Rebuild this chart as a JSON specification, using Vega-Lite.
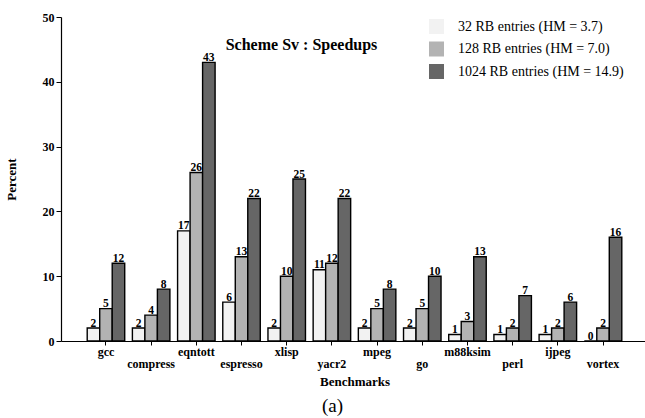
{
  "$schema": "https://vega.github.io/schema/vega-lite/v6.json",
  "width": 587,
  "height": 324,
  "autosize": {"type": "none"},
  "padding": {"left": 61, "top": 17, "right": 0, "bottom": 77},
  "background": "white",
  "config": {
    "view": {"stroke": null},
    "font": "Liberation Serif",
    "axis": {"grid": false}
  },
  "title": {
    "text": "Scheme Sv : Speedups",
    "orient": "top",
    "anchor": "middle",
    "frame": "group",
    "font": "Liberation Serif",
    "fontSize": 16,
    "fontWeight": "bold",
    "color": "black",
    "offset": 0,
    "baseline": "alphabetic",
    "dx": -53,
    "dy": 55
  },
  "data": {
    "values": [
      {"bench": "gcc", "series": "32 RB entries (HM = 3.7)", "value": 2},
      {"bench": "gcc", "series": "128 RB entries (HM = 7.0)", "value": 5},
      {"bench": "gcc", "series": "1024 RB entries (HM = 14.9)", "value": 12},
      {"bench": "compress", "series": "32 RB entries (HM = 3.7)", "value": 2},
      {"bench": "compress", "series": "128 RB entries (HM = 7.0)", "value": 4},
      {"bench": "compress", "series": "1024 RB entries (HM = 14.9)", "value": 8},
      {"bench": "eqntott", "series": "32 RB entries (HM = 3.7)", "value": 17},
      {"bench": "eqntott", "series": "128 RB entries (HM = 7.0)", "value": 26},
      {"bench": "eqntott", "series": "1024 RB entries (HM = 14.9)", "value": 43},
      {"bench": "espresso", "series": "32 RB entries (HM = 3.7)", "value": 6},
      {"bench": "espresso", "series": "128 RB entries (HM = 7.0)", "value": 13},
      {"bench": "espresso", "series": "1024 RB entries (HM = 14.9)", "value": 22},
      {"bench": "xlisp", "series": "32 RB entries (HM = 3.7)", "value": 2},
      {"bench": "xlisp", "series": "128 RB entries (HM = 7.0)", "value": 10},
      {"bench": "xlisp", "series": "1024 RB entries (HM = 14.9)", "value": 25},
      {"bench": "yacr2", "series": "32 RB entries (HM = 3.7)", "value": 11},
      {"bench": "yacr2", "series": "128 RB entries (HM = 7.0)", "value": 12},
      {"bench": "yacr2", "series": "1024 RB entries (HM = 14.9)", "value": 22},
      {"bench": "mpeg", "series": "32 RB entries (HM = 3.7)", "value": 2},
      {"bench": "mpeg", "series": "128 RB entries (HM = 7.0)", "value": 5},
      {"bench": "mpeg", "series": "1024 RB entries (HM = 14.9)", "value": 8},
      {"bench": "go", "series": "32 RB entries (HM = 3.7)", "value": 2},
      {"bench": "go", "series": "128 RB entries (HM = 7.0)", "value": 5},
      {"bench": "go", "series": "1024 RB entries (HM = 14.9)", "value": 10},
      {"bench": "m88ksim", "series": "32 RB entries (HM = 3.7)", "value": 1},
      {"bench": "m88ksim", "series": "128 RB entries (HM = 7.0)", "value": 3},
      {"bench": "m88ksim", "series": "1024 RB entries (HM = 14.9)", "value": 13},
      {"bench": "perl", "series": "32 RB entries (HM = 3.7)", "value": 1},
      {"bench": "perl", "series": "128 RB entries (HM = 7.0)", "value": 2},
      {"bench": "perl", "series": "1024 RB entries (HM = 14.9)", "value": 7},
      {"bench": "ijpeg", "series": "32 RB entries (HM = 3.7)", "value": 1},
      {"bench": "ijpeg", "series": "128 RB entries (HM = 7.0)", "value": 2},
      {"bench": "ijpeg", "series": "1024 RB entries (HM = 14.9)", "value": 6},
      {"bench": "vortex", "series": "32 RB entries (HM = 3.7)", "value": 0},
      {"bench": "vortex", "series": "128 RB entries (HM = 7.0)", "value": 2},
      {"bench": "vortex", "series": "1024 RB entries (HM = 14.9)", "value": 16}
    ]
  },
  "layer": [
    {
      "mark": {"type": "bar", "stroke": "black", "strokeWidth": 1.4},
      "encoding": {
        "x": {
          "field": "bench",
          "type": "nominal",
          "sort": null,
          "scale": {"paddingInner": 0.17, "paddingOuter": 0.58},
          "axis": {
            "orient": "bottom",
            "title": "Benchmarks",
            "titleFont": "Liberation Serif",
            "titleFontSize": 13,
            "titleFontWeight": "bold",
            "titleColor": "black",
            "titlePadding": 6,
            "labelAngle": 0,
            "labelFont": "Liberation Serif",
            "labelFontSize": 12,
            "labelFontWeight": "bold",
            "labelColor": "black",
            "labelBaseline": "alphabetic",
            "labelPadding": 10,
            "labelLineHeight": 12,
            "labelExpr": "indexof(['compress','espresso','yacr2','go','perl','vortex'], datum.value) >= 0 ? ['', datum.label] : datum.label",
            "tickSize": 4,
            "tickColor": "black",
            "domainColor": "black",
            "domainWidth": 1.2
          }
        },
        "xOffset": {
          "field": "series",
          "type": "nominal",
          "sort": ["32 RB entries (HM = 3.7)", "128 RB entries (HM = 7.0)", "1024 RB entries (HM = 14.9)"],
          "scale": {"paddingInner": 0, "paddingOuter": 0}
        },
        "y": {
          "field": "value",
          "type": "quantitative",
          "scale": {"domain": [0, 50], "nice": false},
          "axis": {
            "title": "Percent",
            "titleFont": "Liberation Serif",
            "titleFontSize": 13,
            "titleFontWeight": "bold",
            "titleColor": "black",
            "titlePadding": 24,
            "values": [0, 10, 20, 30, 40, 50],
            "labelFont": "Liberation Serif",
            "labelFontSize": 12,
            "labelFontWeight": "bold",
            "labelColor": "black",
            "labelPadding": 2,
            "tickSize": 5,
            "tickColor": "black",
            "domainColor": "black",
            "domainWidth": 1.2
          }
        },
        "color": {
          "field": "series",
          "type": "nominal",
          "scale": {
            "domain": ["32 RB entries (HM = 3.7)", "128 RB entries (HM = 7.0)", "1024 RB entries (HM = 14.9)"],
            "range": ["#f2f2f2", "#b3b3b3", "#666666"]
          },
          "legend": {
            "title": null,
            "orient": "none",
            "legendX": 368,
            "legendY": 2,
            "padding": 0,
            "symbolType": "square",
            "symbolSize": 225,
            "symbolStrokeWidth": 0,
            "symbolOpacity": 1,
            "labelFont": "Liberation Serif",
            "labelFontSize": 14,
            "labelColor": "black",
            "labelOffset": 14,
            "labelLimit": 300,
            "rowPadding": 7.5
          }
        }
      }
    },
    {
      "mark": {"type": "text", "baseline": "alphabetic", "dy": -1.5, "fontSize": 11.5, "fontWeight": "bold", "font": "Liberation Serif", "color": "black"},
      "encoding": {
        "x": {
          "field": "bench",
          "type": "nominal",
          "sort": null,
          "axis": {
            "orient": "bottom",
            "title": "(a)",
            "titleFont": "Liberation Serif",
            "titleFontSize": 19,
            "titleFontWeight": "normal",
            "titleColor": "black",
            "titleX": 271,
            "titlePadding": 55,
            "labels": false,
            "ticks": false,
            "domain": false
          }
        },
        "xOffset": {
          "field": "series",
          "type": "nominal",
          "sort": ["32 RB entries (HM = 3.7)", "128 RB entries (HM = 7.0)", "1024 RB entries (HM = 14.9)"]
        },
        "y": {"field": "value", "type": "quantitative"},
        "text": {"field": "value", "type": "quantitative"}
      }
    }
  ],
  "resolve": {"axis": {"x": "independent"}}
}
